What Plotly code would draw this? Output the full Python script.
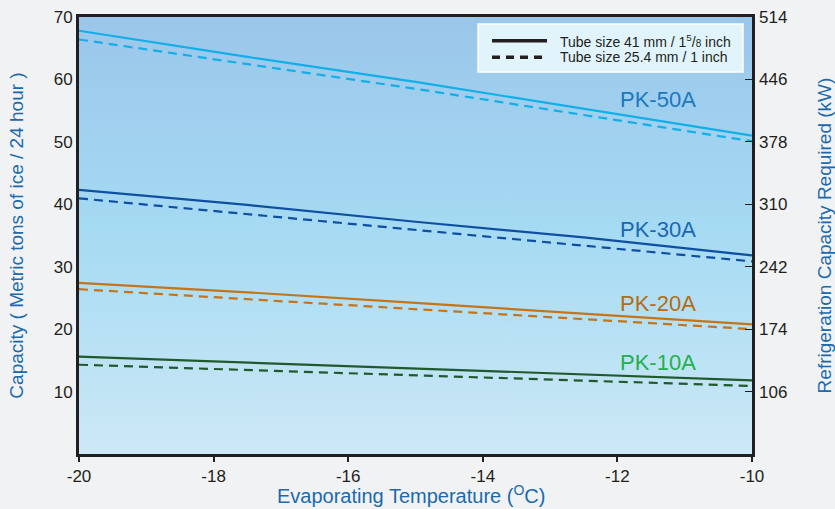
import plotly.graph_objects as go

temps = [-20, -17.5, -15, -12.5, -10]
models = ["PK-50A", "PK-30A", "PK-20A", "PK-10A"]
solid_41mm = {
    "PK-50A": [67.8, 63.6, 59.6, 55.3, 51.0],
    "PK-30A": [42.3, 39.9, 37.2, 34.7, 31.8],
    "PK-20A": [27.4, 25.9, 24.2, 22.5, 20.75],
    "PK-10A": [15.6, 14.65, 13.7, 12.75, 11.8],
}
dashed_25mm = {
    "PK-50A": [66.4, 62.4, 58.5, 54.3, 50.1],
    "PK-30A": [40.95, 38.4, 35.9, 33.4, 30.85],
    "PK-20A": [26.4, 24.8, 23.2, 21.6, 20.0],
    "PK-10A": [14.3, 13.45, 12.6, 11.75, 10.9],
}
legend_labels = ['Tube size 41 mm / 1<sup>5</sup>/<span style="font-size:10px">8</span> inch',
                 "Tube size 25.4 mm / 1 inch"]
line_colors = {"PK-50A": "#12aee8", "PK-30A": "#0f4fa2", "PK-20A": "#c47419", "PK-10A": "#1f5a2c"}
label_colors = {"PK-50A": "#1b78c0", "PK-30A": "#1a68b2", "PK-20A": "#b36b14", "PK-10A": "#22b04b"}
label_pos = {"PK-50A": (-11.4, 56.8), "PK-30A": (-11.4, 36.0), "PK-20A": (-11.4, 24.1), "PK-10A": (-11.4, 14.7)}

y_ticks = [10, 20, 30, 40, 50, 60, 70]
x_ticks = [-20, -18, -16, -14, -12, -10]
x_ticktext = ["-20", "-18", "-16", "-14", "-12", "-10"]
kw_ticks = [106, 174, 242, 310, 378, 446, 514]
kw_range = [38, 514]
x_range = [-20, -10]
y_range = [0, 70]

fig = go.Figure()

# gradient background of plot area
fig.add_trace(go.Scatter(
    x=[x_range[0], x_range[1], x_range[1], x_range[0], x_range[0]],
    y=[y_range[0], y_range[0], y_range[1], y_range[1], y_range[0]],
    mode="none", fill="toself",
    fillgradient=dict(type="vertical", colorscale=[[0, "#cde8f6"], [0.5, "#a6dbf3"], [1, "#9ac6ea"]]),
    showlegend=False, hoverinfo="skip",
))

for m in models:
    fig.add_trace(go.Scatter(x=temps, y=solid_41mm[m], mode="lines",
                             line=dict(color=line_colors[m], width=2.2), showlegend=False))
    fig.add_trace(go.Scatter(x=temps, y=dashed_25mm[m], mode="lines",
                             line=dict(color=line_colors[m], width=2.2, dash="9px,6px"), showlegend=False))
    lx, ly = label_pos[m]
    fig.add_annotation(x=lx, y=ly, text=m, showarrow=False,
                       font=dict(family="Liberation Sans", size=22, color=label_colors[m]))

fig.add_trace(go.Scatter(x=[None], y=[None], yaxis="y2", showlegend=False, hoverinfo="skip"))

# hand-drawn legend box (paper coordinates)
fig.add_shape(type="rect", xref="paper", yref="paper", x0=0.593, x1=0.9866, y0=0.874, y1=0.984,
              fillcolor="#e1f3fb", line=dict(color="#ffffff", width=1.5))
legend_y = [0.9458, 0.9078]
legend_dash = ["solid", "8px,6px"]
for ly, ld, lt in zip(legend_y, legend_dash, legend_labels):
    fig.add_shape(type="line", xref="paper", yref="paper", x0=0.6137, x1=0.6954, y0=ly, y1=ly,
                  line=dict(color="#231f20", width=3.5, dash=ld))
    fig.add_annotation(xref="paper", yref="paper", x=0.7117, y=ly, text=lt, showarrow=False,
                       xanchor="left", yanchor="middle",
                       font=dict(family="Liberation Sans", size=14, color="#231f20"))

tick_font = dict(family="Liberation Sans", size=17, color="#231f20")
title_font = dict(family="Liberation Sans", size=19, color="#1b6aad")

# x-axis title placed as an annotation below the tick labels
fig.add_annotation(xref="paper", yref="paper", x=0.4933, y=-0.0938, yanchor="middle",
                   text="Evaporating Temperature (<sup>O</sup>C)", showarrow=False,
                   font=dict(family="Liberation Sans", size=20, color="#1b6aad"))

fig.update_layout(
    width=835, height=509,
    margin=dict(l=79, r=83, t=17, b=55),
    paper_bgcolor="#f1f2f3",
    plot_bgcolor="rgba(0,0,0,0)",
    showlegend=False,
    xaxis=dict(range=x_range, tickvals=x_ticks, ticktext=x_ticktext, ticks="outside", ticklen=5,
               tickcolor="#231f20", tickwidth=1.5, automargin=False,
               tickfont=tick_font, showgrid=False, zeroline=False,
               showline=True, linecolor="#231f20", linewidth=3, mirror=True),
    yaxis=dict(range=y_range, tickvals=y_ticks, tickfont=tick_font, showgrid=True, gridcolor="#8e8e8e",
               gridwidth=1.2, zeroline=False, showline=True, linecolor="#231f20", linewidth=3, mirror=True,
               ticks="", automargin=False,
               title=dict(text="Capacity ( Metric tons of ice / 24 hour )", font=title_font, standoff=26)),
    yaxis2=dict(range=kw_range, tickvals=kw_ticks, overlaying="y", side="right", tickfont=tick_font,
                showgrid=False, zeroline=False, ticks="inside", ticklen=7, tickcolor="#231f20",
                automargin=False, ticklabelstandoff=6,
                title=dict(text="Refrigeration Capacity Required (kW)", font=title_font, standoff=37)),
)

fig.write_html("out.html", config={"displayModeBar": False},
               post_script="document.body.style.margin='0';")
